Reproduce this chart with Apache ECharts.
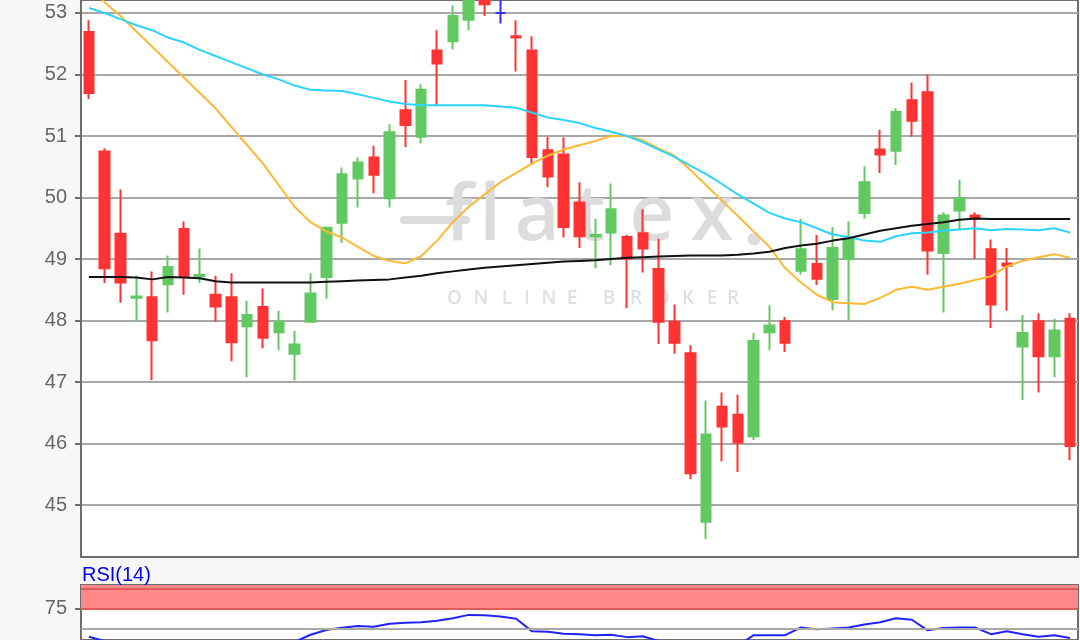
<!DOCTYPE html>
<html><head><meta charset="utf-8">
<script src="https://cdn.jsdelivr.net/npm/echarts@6/dist/echarts.min.js"></script>
<style>html,body{margin:0;padding:0;background:#f7f7f7}#c{width:1080px;height:640px}</style>
</head><body><div id="c"></div>
<script>
const categories = ['1','2','3','4','5','6','7','8','9','10','11','12','13','14','15','16','17','18','19','20','21','22','23','24','25','26','27','28','29','30','31','32','33','34','35','36','37','38','39','40','41','42','43','44','45','46','47','48','49','50','51','52','53','54','55','56','57','58','59','60','61','62','63'];
const openP  = [52.69,50.75,49.41,48.37,48.38,48.59,49.49,48.72,48.42,48.38,47.91,48.22,47.81,47.46,47.98,48.71,49.59,50.31,50.65,49.99,51.42,50.99,52.39,52.54,52.89,53.30,53.00,52.62,52.39,50.77,50.70,49.92,49.37,49.43,49.36,49.42,48.84,47.98,47.47,44.73,46.60,46.47,46.12,47.81,47.99,48.81,48.92,48.35,49.00,49.75,50.78,50.76,51.58,51.71,49.10,49.79,49.71,49.16,48.93,47.58,47.99,47.42,48.03];
const closeP = [51.70,48.85,48.62,48.39,47.68,48.87,48.71,48.74,48.23,47.65,48.09,47.72,47.98,47.61,48.44,49.51,50.38,50.57,50.37,51.06,51.18,51.75,52.18,52.95,53.35,53.14,53.00,52.60,50.66,50.34,49.52,49.37,49.39,49.81,49.01,49.17,47.98,47.64,45.52,46.15,46.28,46.02,47.67,47.92,47.64,49.16,48.68,49.18,49.33,50.25,50.70,51.39,51.25,49.14,49.71,49.99,49.66,48.26,48.89,47.80,47.42,47.84,45.96];
const lowP   = [51.60,48.61,48.29,47.98,47.03,48.13,48.42,48.61,47.98,47.34,47.08,47.55,47.52,47.03,47.98,48.36,49.26,49.84,50.07,49.84,50.82,50.88,51.51,52.41,52.72,52.95,52.83,52.05,50.53,50.17,49.35,49.18,48.85,48.90,48.20,48.78,47.62,47.46,45.42,44.45,45.71,45.54,46.06,47.52,47.49,48.75,48.58,48.17,48.00,49.66,50.40,50.53,50.99,48.75,48.13,49.49,49.00,47.88,48.16,46.71,46.83,47.08,45.73];
const highP  = [52.88,50.80,50.13,48.73,48.80,49.06,49.61,49.17,48.73,48.77,48.32,48.52,48.16,47.83,48.77,49.51,50.49,50.65,50.84,51.19,51.91,51.84,52.72,53.12,53.45,53.40,53.25,52.88,52.62,50.99,50.98,50.25,49.65,50.23,49.39,49.81,49.33,48.26,47.60,46.70,46.83,46.80,47.80,48.25,48.06,49.65,49.39,49.52,49.61,50.51,51.10,51.45,51.87,52.00,49.76,50.29,49.76,49.32,49.18,48.09,48.12,48.03,48.12];
const maShort = [53.5,53.17,52.95,52.7,52.45,52.2,51.95,51.7,51.45,51.15,50.85,50.55,50.2,49.85,49.6,49.45,49.35,49.2,49.05,48.97,48.93,49.05,49.3,49.6,49.85,50.05,50.25,50.4,50.55,50.68,50.78,50.85,50.92,51.0,51.0,50.93,50.8,50.68,50.45,50.2,49.95,49.7,49.45,49.2,48.85,48.62,48.42,48.3,48.28,48.27,48.37,48.5,48.55,48.5,48.55,48.6,48.66,48.72,48.88,48.97,49.03,49.08,49.02];
const maMid = [53.08,53.0,52.9,52.8,52.72,52.6,52.52,52.4,52.3,52.2,52.1,52.0,51.92,51.82,51.75,51.74,51.73,51.68,51.62,51.56,51.52,51.5,51.5,51.5,51.5,51.5,51.48,51.46,51.38,51.3,51.26,51.21,51.13,51.07,51.0,50.9,50.78,50.66,50.52,50.38,50.22,50.05,49.9,49.75,49.66,49.6,49.5,49.4,49.36,49.3,49.28,49.37,49.42,49.43,49.46,49.48,49.5,49.47,49.49,49.48,49.47,49.5,49.43];
const maLong = [48.71,48.71,48.71,48.70,48.67,48.71,48.70,48.69,48.64,48.62,48.62,48.62,48.62,48.62,48.62,48.63,48.64,48.65,48.66,48.67,48.70,48.73,48.77,48.80,48.83,48.86,48.88,48.90,48.92,48.94,48.96,48.97,48.98,49.0,49.02,49.03,49.04,49.05,49.06,49.06,49.06,49.07,49.09,49.12,49.18,49.22,49.25,49.30,49.34,49.40,49.46,49.50,49.54,49.57,49.60,49.64,49.66,49.65,49.65,49.65,49.65,49.65,49.65];
const rsi = [39.5,34,32,31,28,31,30,31,29,27,29,28,29,33,42,48,51,53,52,56,57.3,57.9,59.8,62.8,67.1,66.5,65.2,62.2,46.3,45.7,43.3,42.7,41.5,42.1,39,40.2,34,31,24,30,29,28,41.5,41.5,41.5,51.2,48.8,50,51.2,54.9,57.9,62.8,61,47.6,50.6,51.2,51.2,42.7,46.3,42.7,39.6,41.5,37.8];
const priceTicks = [45,46,47,48,49,50,51,52,53];
const rsiTicks = [75];
const rsiZone = [75,100];
const rsiMid = 50;

const candleData = openP.map((o,i)=>[o, closeP[i], lowP[i], highP[i]]);

const WM = '#dcdcdc';
const wmLetters = [['f',459],['l',490],['a',537],['t',590],['e',652],['x',712]];
const wmSub = [['O',454.5],['N',481],['L',507],['I',527],['N',549],['E',572],['B',609],['R',636],['O',662],['K',688],['E',712],['R',733]];
const graphics = [];
wmLetters.forEach(([c,x])=>graphics.push({type:'text',z:1,silent:true,style:{text:c,x:x,y:257,textAlign:'center',textVerticalAlign:'bottom',font:'600 78px "Open Sans"',fill:WM}}));
graphics.push({type:'line',z:1,silent:true,shape:{x1:404,y1:220,x2:466,y2:220},style:{stroke:WM,lineWidth:8,lineCap:'round'}});
graphics.push({type:'circle',z:1,silent:true,shape:{cx:754,cy:239,r:6.5},style:{fill:WM}});
wmSub.forEach(([c,x])=>graphics.push({type:'text',z:1,silent:true,style:{text:c,x:x,y:299,textAlign:'center',textVerticalAlign:'middle',font:'600 19px "Open Sans"',fill:'#e0e0e0'}}));
graphics.push({type:'text',z:5,silent:true,style:{text:'RSI(14)',x:82,y:575,textAlign:'left',textVerticalAlign:'middle',font:'20px "Liberation Sans", Arial',fill:'#0000ee'}});

const chart = echarts.init(document.getElementById('c'), null, {renderer:'canvas'});
chart.setOption({
  animation:false,
  backgroundColor:'#f7f7f7',
  graphic: graphics,
  grid:[
    {left:81,right:2,top:-2,bottom:83,show:true,backgroundColor:'#ffffff',borderColor:'#6e6e6e',borderWidth:2},
    {left:81,right:2,top:585,bottom:-2,show:true,backgroundColor:'#ffffff',borderColor:'#6e6e6e',borderWidth:2}
  ],
  xAxis:[
    {type:'category',gridIndex:0,data:categories,boundaryGap:true,axisLine:{show:false},axisTick:{show:false},axisLabel:{show:false},splitLine:{show:false}},
    {type:'category',gridIndex:1,data:categories,boundaryGap:true,axisLine:{show:false},axisTick:{show:false},axisLabel:{show:false},splitLine:{show:false}}
  ],
  yAxis:[
    {type:'value',gridIndex:0,min:44.158,max:53.2105,splitNumber:9,
     axisLine:{show:true,lineStyle:{color:'#6e6e6e',width:2}},
     axisTick:{show:true,length:6,customValues:priceTicks,lineStyle:{color:'#6e6e6e',width:2}},
     axisLabel:{customValues:priceTicks,margin:14,color:'#666666',fontSize:20,fontFamily:'"Liberation Sans", Arial',
       formatter:v=>priceTicks.indexOf(Math.round(v*1000)/1000)>=0?String(v):''},
     splitLine:{show:true,lineStyle:{color:'#a8a8a8',width:2}}},
    {type:'value',gridIndex:1,min:35.37,max:104.88,
     axisLine:{show:true,lineStyle:{color:'#6e6e6e',width:2}},
     axisTick:{show:true,length:6,customValues:rsiTicks,lineStyle:{color:'#6e6e6e',width:2}},
     axisLabel:{customValues:rsiTicks,margin:14,color:'#666666',fontSize:20,fontFamily:'"Liberation Sans", Arial',
       formatter:v=>rsiTicks.indexOf(v)>=0?String(v):''},
     splitLine:{show:false}}
  ],
  series:[
    {type:'candlestick',xAxisIndex:0,yAxisIndex:0,data:candleData,barWidth:10,z:2,
     itemStyle:{color:'#62c862',color0:'#ff3333',borderColor:'#62c862',borderColor0:'#ff3333',borderColorDoji:'#3030ee',borderWidth:2}},
    {type:'line',xAxisIndex:0,yAxisIndex:0,data:maShort,symbol:'none',z:3,lineStyle:{color:'#ffb833',width:2}},
    {type:'line',xAxisIndex:0,yAxisIndex:0,data:maMid,symbol:'none',z:3,lineStyle:{color:'#2ad4ff',width:2}},
    {type:'line',xAxisIndex:0,yAxisIndex:0,data:maLong,symbol:'none',z:3,lineStyle:{color:'#111111',width:2}},
    {type:'line',xAxisIndex:1,yAxisIndex:1,data:rsi,symbol:'none',z:3,lineStyle:{color:'#2222ff',width:2},
     markArea:{silent:true,itemStyle:{color:'#ff8888',opacity:1},data:[[{yAxis:rsiZone[0]},{yAxis:104.88}]]},
     markLine:{silent:true,symbol:'none',label:{show:false},
       data:[{yAxis:rsiZone[0],lineStyle:{color:'#e05a5a',width:2,type:'solid'}},
             {yAxis:rsiZone[1],lineStyle:{color:'#e05a5a',width:2,type:'solid'}},
             {yAxis:rsiMid,lineStyle:{color:'#a8a8a8',width:2,type:'solid'}}]}}
  ]
});
</script></body></html>
